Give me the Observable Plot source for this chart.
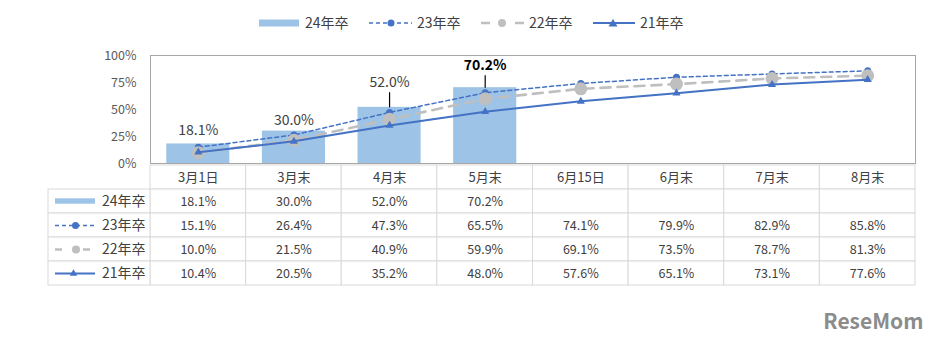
<!DOCTYPE html>
<html><head><meta charset="utf-8">
<script src="https://cdn.jsdelivr.net/npm/d3@7"></script>
<script src="https://cdn.jsdelivr.net/npm/@observablehq/plot@0.6"></script>
<style>
body{margin:0;background:#fff;font-family:"Noto Sans CJK JP","Noto Sans",sans-serif;}
#wrap{width:937px;height:352px;position:relative;overflow:hidden;background:#fff;}
#legend{height:40px;}
#chart svg,#table svg{display:block;}
#table{margin-top:-1px;}
</style></head><body>
<div id="wrap"><div id="legend"></div><div id="chart"></div><div id="table"></div></div>
<script>
// ---- data ----
const categories = ["3月1日","3月末","4月末","5月末","6月15日","6月末","7月末","8月末"];
const seriesNames = ["24年卒","23年卒","22年卒","21年卒"];
const values24 = [18.1, 30.0, 52.0, 70.2];
const values23 = [15.1, 26.4, 47.3, 65.5, 74.1, 79.9, 82.9, 85.8];
const values22 = [10.0, 21.5, 40.9, 59.9, 69.1, 73.5, 78.7, 81.3];
const values21 = [10.4, 20.5, 35.2, 48.0, 57.6, 65.1, 73.1, 77.6];
const yTicks = [0, 25, 50, 75, 100];

// ---- styles / layout ----
const FONT = '"Noto Sans CJK JP","Noto Sans",sans-serif';
const BAR = "#9DC3E6", BLUE = "#4472C4", GREY = "#BFBFBF", TXT = "#404040";
const labelLift = [12.5, 10, 23, 20.5];   // label offsets above bar tops (percent units)
const leaderLen = [0, 0, 14, 11.5];

const rows = (vals, name) => vals.map((v, i) => ({i, v, name, cat: categories[i]}));
const s24 = rows(values24, seriesNames[0]);
const s23 = rows(values23, seriesNames[1]);
const s22 = rows(values22, seriesNames[2]);
const s21 = rows(values21, seriesNames[3]);
const cx = d => d.i + 0.5;

// ---- legend ----
const lg = d3.select("#legend").append("svg").attr("width", 937).attr("height", 40)
  .style("font-family", FONT);
const ly = 23;
lg.append("rect").attr("x", 259).attr("y", ly - 3.5).attr("width", 40).attr("height", 7).attr("fill", BAR);
lg.append("line").attr("x1", 369).attr("x2", 412).attr("y1", ly).attr("y2", ly)
  .attr("stroke", BLUE).attr("stroke-width", 1.5).attr("stroke-dasharray", "4,3");
lg.append("circle").attr("cx", 391).attr("cy", ly).attr("r", 3.5).attr("fill", BLUE);
lg.append("line").attr("x1", 481).attr("x2", 524).attr("y1", ly).attr("y2", ly)
  .attr("stroke", GREY).attr("stroke-width", 2.5).attr("stroke-dasharray", "9,25");
lg.append("circle").attr("cx", 502).attr("cy", ly).attr("r", 4).attr("fill", GREY);
lg.append("line").attr("x1", 593).attr("x2", 635).attr("y1", ly).attr("y2", ly)
  .attr("stroke", BLUE).attr("stroke-width", 2);
lg.append("path").attr("d", `M613,${ly-4}L617.5,${ly+3.5}L608.5,${ly+3.5}Z`).attr("fill", BLUE);
[305, 417, 529, 640].forEach((x, k) => {
  lg.append("text").attr("x", x).attr("y", ly).attr("dy", "0.35em")
    .attr("font-size", 14).attr("fill", TXT).text(seriesNames[k]);
});

// ---- chart ----
const chart = Plot.plot({
  width: 937, height: 124,
  marginTop: 15, marginBottom: 1, marginLeft: 150, marginRight: 22,
  style: {fontFamily: FONT, background: "transparent", overflow: "visible"},
  x: {domain: [0, categories.length], axis: null},
  y: {domain: [0, 100], axis: null},
  marks: [
    Plot.rectY(s24, {x1: d => d.i + 0.17, x2: d => d.i + 0.83, y: "v", fill: BAR}),
    Plot.frame({stroke: "#A6A6A6"}),
    Plot.axisY({ticks: yTicks, tickFormat: d => d + "%", tickSize: 0, tickPadding: 14,
                fontSize: 12.5, fill: "#595959", label: null}),
    Plot.line(s23, {x: cx, y: "v", stroke: BLUE, strokeWidth: 1.5, strokeDasharray: "4,3"}),
    Plot.dot(s23, {x: cx, y: "v", r: 3.5, fill: BLUE, symbol: "circle"}),
    Plot.line(s22, {x: cx, y: "v", stroke: GREY, strokeWidth: 2.6, strokeDasharray: "10,7"}),
    Plot.dot(s22, {x: cx, y: "v", r: 6.5, fill: GREY, symbol: "circle"}),
    Plot.line(s21, {x: cx, y: "v", stroke: BLUE, strokeWidth: 2}),
    Plot.dot(s21, {x: cx, y: "v", r: 3, fill: BLUE, symbol: "triangle"}),
    Plot.link(s24.filter(d => leaderLen[d.i] > 0), {x1: cx, x2: cx, y1: "v", y2: d => d.v + leaderLen[d.i],
      stroke: "#000", strokeWidth: 1.2}),
    Plot.text(s24.filter(d => d.i < values24.length - 1), {x: cx, y: d => d.v + labelLift[d.i],
      text: d => d.v.toFixed(1) + "%", fontSize: 14, fill: TXT}),
    Plot.text(s24.filter(d => d.i === values24.length - 1), {x: cx, y: d => d.v + labelLift[d.i],
      text: d => d.v.toFixed(1) + "%", fontSize: 14, fontWeight: "bold", fill: "#000"})
  ]
});
document.getElementById("chart").append(chart);

// ---- table ----
const colW = (915 - 150) / categories.length;
const u = px => (px - 150) / colW;          // pixel -> column units (for legend swatches)
const rowKeys = ["header", ...seriesNames];
const gridCells = [];
rowKeys.forEach(r => categories.forEach((c, i) => gridCells.push({r, i})));
const valueCells = [...s24, ...s23, ...s22, ...s21];

const table = Plot.plot({
  width: 937, height: 189,
  marginTop: 0, marginBottom: 66, marginLeft: 150, marginRight: 22,
  style: {fontFamily: FONT, background: "transparent", overflow: "visible"},
  x: {domain: [0, categories.length], axis: null},
  y: {domain: rowKeys, axis: null, padding: 0},
  marks: [
    Plot.barX(gridCells, {x1: d => d.i, x2: d => d.i + 1, y: "r", fill: "#fff", stroke: "#D9D9D9", inset: 0}),
    Plot.barX(seriesNames, {x1: () => u(48), x2: () => 0, y: d => d, fill: "#fff", stroke: "#D9D9D9", inset: 0}),
    Plot.text(categories, {x: (d, i) => i + 0.5, y: () => "header", text: d => d, fontSize: 13, fill: TXT}),
    Plot.text(valueCells, {x: cx, y: "name", text: d => d.v.toFixed(1) + "%", fontSize: 12.5, fill: TXT}),
    Plot.text(seriesNames, {x: () => 0, y: d => d, dx: -5, textAnchor: "end", fontSize: 14, fill: TXT}),
    // row-header swatches
    Plot.barX([seriesNames[0]], {x1: () => u(55), x2: () => u(95), y: d => d, fill: BAR, insetTop: 9.3, insetBottom: 9.3}),
    Plot.ruleY([seriesNames[1]], {y: d => d, x1: () => u(55), x2: () => u(97), stroke: BLUE, strokeWidth: 1.5, strokeDasharray: "4,3"}),
    Plot.dot([seriesNames[1]], {y: d => d, x: () => u(75), r: 3.5, fill: BLUE}),
    Plot.ruleY([seriesNames[2]], {y: d => d, x1: () => u(55), x2: () => u(90), stroke: GREY, strokeWidth: 2.5, strokeDasharray: "7,21"}),
    Plot.dot([seriesNames[2]], {y: d => d, x: () => u(75.5), r: 4, fill: GREY}),
    Plot.ruleY([seriesNames[3]], {y: d => d, x1: () => u(55), x2: () => u(95), stroke: BLUE, strokeWidth: 2}),
    Plot.dot([seriesNames[3]], {y: d => d, x: () => u(73), r: 2.8, fill: BLUE, symbol: "triangle"}),
    // watermark
    Plot.text(["ReseMom"], {frameAnchor: "bottom-right", dx: 8, dy: 42, textAnchor: "end",
      fontSize: 21, fontWeight: "bold", fill: "#8c8c8c"})
  ]
});
document.getElementById("table").append(table);
</script>
</body></html>
